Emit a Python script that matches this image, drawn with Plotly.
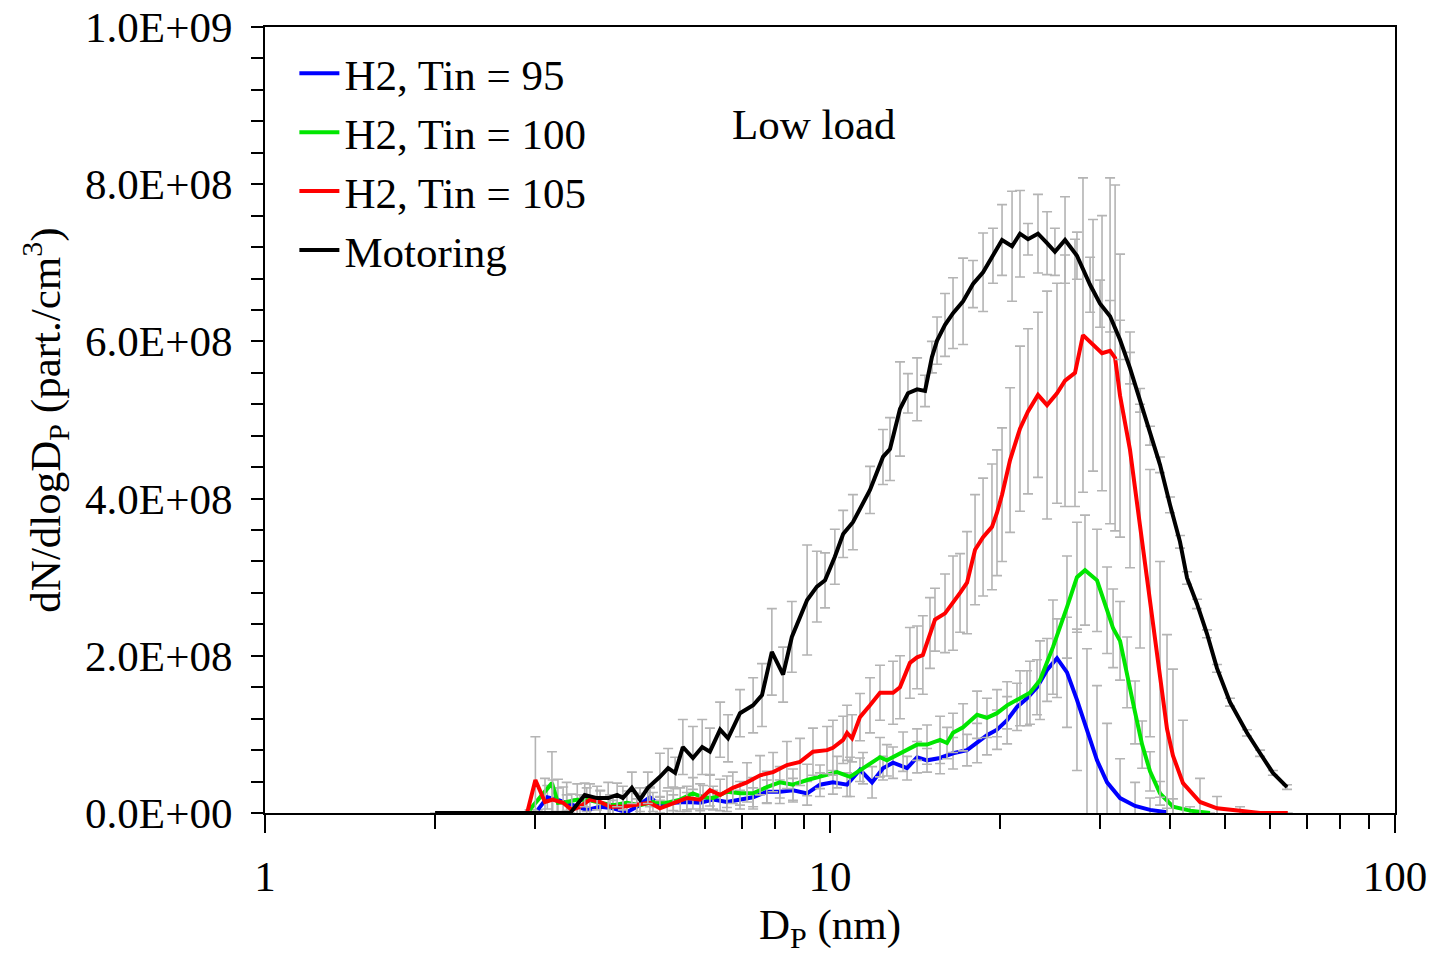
import numpy as np
import plotly.graph_objects as go

SCALE = 1e8  # values below are in units of 1E+08 part./cm3

# ---- Motoring (black) ----
d_mot = [2.00, 2.83, 3.47, 3.68, 3.87, 4.05, 4.20, 4.30, 4.46, 4.61, 4.76, 5.00, 5.17, 5.32, 5.49,
         5.72, 5.94, 6.13, 6.39, 6.60, 6.93, 7.31, 7.58, 7.89, 8.26, 8.56, 9.11, 9.48, 9.80, 10.20,
         10.55, 10.98, 11.77, 12.41, 12.77, 13.30, 13.74, 14.26, 14.73, 15.15, 15.47, 15.98, 16.51,
         17.20, 17.91, 18.66, 19.43, 20.16, 21.00, 21.69, 22.41, 23.34, 24.22, 25.01, 26.06, 27.36,
         28.86, 30.06, 31.31, 32.61, 33.96, 35.38, 36.85, 38.38, 39.98, 41.64, 42.85, 44.63, 46.48,
         48.42, 51.05, 54.70, 57.70, 60.80, 64.40]
n_mot = [0, 0, 0, 0.23, 0.19, 0.19, 0.23, 0.19, 0.32, 0.17, 0.32, 0.46, 0.57, 0.51, 0.84,
         0.70, 0.84, 0.78, 1.06, 0.95, 1.27, 1.37, 1.50, 2.05, 1.76, 2.24, 2.71, 2.88, 2.96, 3.26,
         3.55, 3.70, 4.11, 4.53, 4.63, 5.14, 5.34, 5.39, 5.37, 5.80, 6.01, 6.21, 6.36,
         6.51, 6.73, 6.88, 7.09, 7.29, 7.21, 7.37, 7.30, 7.37, 7.25, 7.14, 7.29, 7.09,
         6.72, 6.48, 6.32, 6.02, 5.66, 5.25, 4.80, 4.43, 3.92, 3.45, 2.99, 2.66, 2.28,
         1.84, 1.41, 1.02, 0.76, 0.51, 0.33]
e_mot = [0, 0, 0, 0.15, 0.15, 0.20, 0.15, 0.15, 0.20, 0.15, 0.20, 0.30, 0.25, 0.20, 0.35,
         0.40, 0.35, 0.30, 0.35, 0.30, 0.30, 0.35, 0.40, 0.55, 0.35, 0.45, 0.70, 0.45, 0.35, 0.35,
         0.30, 0.35, 0.30, 0.35, 0.40, 0.60, 0.25, 0.40, 0.20, 0.20, 0.30, 0.40, 0.45,
         0.55, 0.30, 0.50, 0.35, 0.45, 0.70, 0.55, 0.20, 0.50, 0.40, 0.30, 0.55, 0.30,
         0.35, 0.30, 0.20, 0.25, 0.20, 0.15, 0.12, 0.10, 0.10, 0.08, 0.08, 0.06, 0.05,
         0.05, 0.05, 0.04, 0.04, 0.03, 0.03]

# ---- H2, Tin = 105 (red) ----
d_105 = [2.91, 3.01, 3.13, 3.23, 3.37, 3.49, 3.61, 3.76, 3.92, 4.08, 4.30, 4.55, 4.80, 5.00, 5.28,
         5.58, 5.89, 6.13, 6.39, 6.73, 7.13, 7.52, 7.93, 8.39, 8.85, 9.33, 9.88, 10.12, 10.55, 10.72,
         10.94, 11.30, 11.77, 12.26, 12.93, 13.30, 13.85, 14.26, 14.60, 15.03, 15.34, 15.98, 16.51,
         16.99, 17.48, 18.06, 18.66, 19.35, 19.75, 20.16, 20.83, 21.69, 22.41, 23.34, 24.22, 25.22,
         26.06, 27.14, 28.04, 29.21, 30.30, 31.31, 31.96, 32.61, 33.96, 35.38, 36.85, 38.38, 39.49,
         40.46, 42.15, 45.17, 48.42, 53.17, 57.70, 64.60]
n_105 = [0, 0.42, 0.14, 0.17, 0.13, 0.04, 0.08, 0.17, 0.14, 0.08, 0.08, 0.10, 0.13, 0.06, 0.13,
         0.19, 0.17, 0.29, 0.23, 0.32, 0.39, 0.48, 0.52, 0.61, 0.65, 0.78, 0.80, 0.83, 0.93, 1.02,
         0.95, 1.22, 1.37, 1.53, 1.53, 1.60, 1.91, 1.98, 2.01, 2.29, 2.46, 2.54, 2.67,
         2.80, 2.93, 3.35, 3.51, 3.64, 3.82, 4.05, 4.49, 4.89, 5.11, 5.32, 5.19, 5.34,
         5.50, 5.60, 6.08, 5.95, 5.85, 5.88, 5.79, 5.31, 4.62, 3.65, 2.67, 1.70, 1.07,
         0.73, 0.38, 0.14, 0.06, 0.03, 0.0, 0.0]
e_105 = [0, 0.55, 0.30, 0.25, 0.20, 0.20, 0.15, 0.20, 0.15, 0.15, 0.15, 0.15, 0.20, 0.15, 0.20,
         0.15, 0.20, 0.20, 0.20, 0.20, 0.25, 0.25, 0.25, 0.30, 0.30, 0.30, 0.30, 0.35, 0.30, 0.35,
         0.30, 0.30, 0.35, 0.35, 0.40, 0.40, 0.45, 0.40, 0.50, 0.45, 0.40, 0.50, 0.60,
         0.50, 0.65, 0.70, 0.75, 0.80, 0.80, 0.85, 0.92, 1.05, 1.05, 1.05, 1.45, 1.40,
         1.60, 1.70, 2.00, 1.60, 1.75, 2.20, 2.20, 1.80, 1.50, 1.55, 1.70, 1.50, 1.20,
         1.10, 0.80, 0.30, 0.15, 0.05, 0, 0]

# ---- H2, Tin = 100 (green) ----
d_100 = [2.94, 3.22, 3.30, 3.42, 3.57, 3.71, 3.92, 4.13, 4.37, 4.61, 4.86, 5.15, 5.43, 5.72, 5.96,
         6.21, 6.57, 6.93, 7.31, 7.73, 8.15, 8.60, 9.11, 9.60, 10.29, 10.85, 11.44, 12.26, 12.61,
         13.47, 14.26, 14.85, 15.66, 16.11, 16.51, 17.20, 18.21, 18.96, 19.75, 20.58, 21.69, 22.59,
         23.53, 24.81, 26.27, 27.36, 28.27, 29.69, 30.93, 31.70, 32.61, 33.56, 34.67, 35.68, 36.85,
         38.38, 40.46, 43.37, 47.05]
n_100 = [0.04, 0.38, 0.13, 0.14, 0.17, 0.17, 0.13, 0.10, 0.13, 0.10, 0.14, 0.13, 0.17, 0.25, 0.20,
         0.19, 0.27, 0.25, 0.25, 0.33, 0.39, 0.36, 0.42, 0.46, 0.52, 0.46, 0.57, 0.71, 0.67,
         0.78, 0.87, 0.87, 0.93, 0.89, 1.02, 1.09, 1.25, 1.21, 1.27, 1.37, 1.46, 1.53,
         1.69, 2.11, 2.62, 3.00, 3.09, 2.96, 2.58, 2.35, 2.19, 1.79, 1.28, 0.87, 0.53,
         0.25, 0.08, 0.03, 0.0]
e_100 = [0, 0.40, 0.30, 0.25, 0.20, 0.15, 0.15, 0.12, 0.15, 0.12, 0.12, 0.15, 0.15, 0.20, 0.15,
         0.15, 0.20, 0.15, 0.20, 0.20, 0.20, 0.20, 0.20, 0.15, 0.20, 0.25, 0.20, 0.25, 0.20,
         0.25, 0.20, 0.25, 0.30, 0.20, 0.25, 0.30, 0.30, 0.25, 0.30, 0.30, 0.35, 0.40,
         0.50, 0.60, 0.65, 0.70, 0.70, 0.65, 0.55, 0.50, 0.50, 0.45, 0.40, 0.30, 0.25,
         0.15, 0.10, 0.05, 0]

# ---- H2, Tin = 95 (blue) ----
d_95 = [3.04, 3.16, 3.29, 3.42, 3.57, 3.71, 3.92, 4.13, 4.37, 4.55, 4.80, 5.00, 5.28, 5.58, 5.89,
        6.21, 6.57, 6.93, 7.31, 7.73, 8.15, 8.60, 9.11, 9.60, 10.12, 10.72, 11.30, 11.87, 12.41,
        12.93, 13.69, 14.26, 14.85, 15.66, 16.51, 17.48, 18.21, 18.96, 19.75, 20.58, 21.43, 22.32,
        23.25, 24.22, 25.22, 26.27, 27.36, 28.50, 29.69, 30.93, 32.61, 34.67, 36.85, 39.49]
n_95 = [0.04, 0.20, 0.17, 0.13, 0.08, 0.04, 0.08, 0.06, 0.01, 0.08, 0.20, 0.10, 0.13, 0.14, 0.13,
        0.17, 0.14, 0.17, 0.20, 0.27, 0.27, 0.29, 0.25, 0.36, 0.39, 0.36, 0.55, 0.39, 0.57,
        0.64, 0.57, 0.71, 0.67, 0.70, 0.76, 0.80, 0.89, 0.99, 1.06, 1.18, 1.35, 1.46,
        1.60, 1.82, 1.97, 1.79, 1.44, 1.04, 0.67, 0.39, 0.19, 0.09, 0.04, 0.01]
e_95 = [0, 0.15, 0.15, 0.10, 0.10, 0.10, 0.10, 0.10, 0.10, 0.10, 0.12, 0.10, 0.10, 0.12, 0.10,
        0.12, 0.12, 0.12, 0.12, 0.15, 0.15, 0.15, 0.15, 0.15, 0.15, 0.15, 0.15, 0.20, 0.15,
        0.20, 0.15, 0.20, 0.15, 0.20, 0.20, 0.20, 0.25, 0.25, 0.25, 0.30, 0.30, 0.35,
        0.35, 0.40, 0.50, 0.70, 0.90, 1.05, 0.95, 0.75, 0.50, 0.30, 0.15, 0.05]

series = [
    ("H2, Tin = 95", d_95, n_95, e_95, "#0000FF"),
    ("H2, Tin = 100", d_100, n_100, e_100, "#00E600"),
    ("H2, Tin = 105", d_105, n_105, e_105, "#FF0000"),
    ("Motoring", d_mot, n_mot, e_mot, "#000000"),
]

y_tickvals = [0, 2e8, 4e8, 6e8, 8e8, 1e9]
y_ticktext = ["0.0E+00", "2.0E+08", "4.0E+08", "6.0E+08", "8.0E+08", "1.0E+09"]
x_tickvals = [1, 10, 100]
x_ticktext = ["1", "10", "100"]
x_minor = [2, 3, 4, 5, 6, 7, 8, 9, 20, 30, 40, 50, 60, 70, 80, 90]

FONT = "Liberation Serif, Times New Roman, serif"
FS = 43

fig = go.Figure()
for name, d, n, e, col in series:
    fig.add_trace(go.Scatter(
        x=d, y=np.array(n) * SCALE, name=name, mode="lines",
        line=dict(color=col, width=4),
        error_y=dict(type="data", array=np.array(e) * SCALE, visible=True,
                     color="#B4B4B4", thickness=1.6, width=5),
    ))

fig.add_annotation(text="Low load", x=0.486, y=0.909, xref="paper", yref="paper",
                   showarrow=False, font=dict(family=FONT, size=FS, color="black"))

fig.update_layout(
    width=1437, height=955,
    margin=dict(l=265, r=42, t=27, b=142),
    paper_bgcolor="white", plot_bgcolor="white",
    font=dict(family=FONT, size=FS, color="black"),
    showlegend=True,
    legend=dict(x=0.026, y=0.985, xanchor="left", yanchor="top",
                bgcolor="rgba(0,0,0,0)", font=dict(family=FONT, size=FS),
                itemwidth=40, tracegroupgap=0),
    xaxis=dict(type="log", range=[0, 2], tickvals=x_tickvals, ticktext=x_ticktext,
               automargin=False,
               ticks="outside", ticklen=18, tickwidth=2, tickcolor="black",
               showline=True, linecolor="black", linewidth=2, mirror=True,
               showgrid=False, zeroline=False, ticklabelstandoff=6,
               minor=dict(tickvals=x_minor, ticks="outside", ticklen=14, tickwidth=2,
                          tickcolor="black", showgrid=False),
               title=dict(text="D<sub>P</sub> (nm)", font=dict(family=FONT, size=FS),
                          standoff=10)),
    yaxis=dict(range=[0, 1e9], tickvals=y_tickvals, ticktext=y_ticktext,
               automargin=False,
               ticks="outside", ticklen=12, tickwidth=2, tickcolor="black",
               showline=True, linecolor="black", linewidth=2, mirror=True,
               showgrid=False, zeroline=False, ticklabelstandoff=10,
               minor=dict(dtick=4e7, ticks="outside", ticklen=12, tickwidth=2,
                          tickcolor="black", showgrid=False),
               title=dict(text="dN/dlogD<sub>P</sub> (part./cm<sup>3</sup>)",
                          font=dict(family=FONT, size=FS), standoff=11)),
)

fig.write_html("out.html", config={"displayModeBar": False},
               post_script="document.body.style.margin='0px';")
